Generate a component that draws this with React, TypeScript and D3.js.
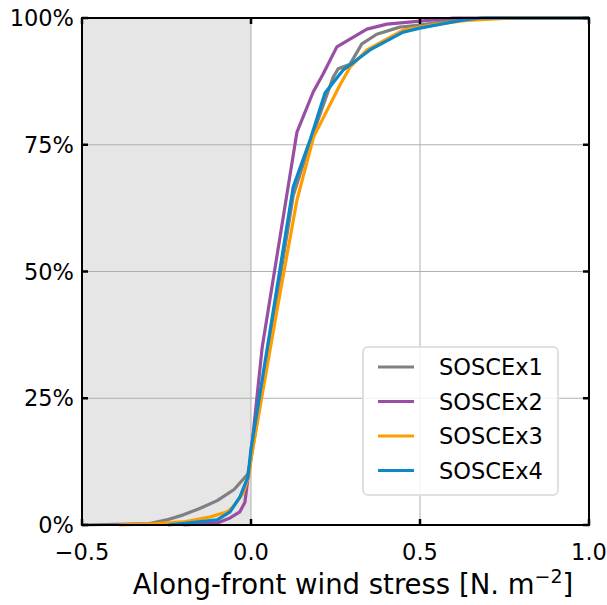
import React from "react";
import * as d3 from "d3";

const soscex1: [number, number][] = [
  [-0.5, 0], [-0.3, 0.003], [-0.25, 0.01], [-0.2, 0.02], [-0.15, 0.033],
  [-0.1, 0.048], [-0.05, 0.07], [-0.01, 0.1], [0.0, 0.13], [0.125, 0.65],
  [0.18, 0.765], [0.243, 0.883], [0.258, 0.9], [0.293, 0.909], [0.328, 0.949],
  [0.372, 0.968], [0.44, 0.982], [0.5, 0.986], [0.6, 0.996], [0.7, 1.0], [1.0, 1.0],
];
const soscex2: [number, number][] = [
  [-0.2, 0], [-0.1, 0.004], [-0.062, 0.014], [-0.033, 0.026], [-0.018, 0.045],
  [0.0, 0.14], [0.033, 0.35], [0.136, 0.775], [0.184, 0.854], [0.213, 0.889],
  [0.254, 0.943], [0.343, 0.978], [0.402, 0.988], [0.5, 0.994], [0.6, 1.0], [1.0, 1.0],
];
const soscex3: [number, number][] = [
  [-0.39, 0], [-0.3, 0.002], [-0.2, 0.006], [-0.12, 0.016], [-0.07, 0.026],
  [-0.053, 0.036], [-0.023, 0.063], [-0.005, 0.1], [0.0, 0.13], [0.077, 0.424],
  [0.136, 0.641], [0.185, 0.765], [0.263, 0.868], [0.293, 0.903], [0.343, 0.937],
  [0.45, 0.976], [0.55, 0.988], [0.65, 0.996], [0.77, 1.0], [1.0, 1.0],
];
const soscex4: [number, number][] = [
  [-0.245, 0], [-0.1, 0.01], [-0.062, 0.026], [-0.033, 0.055], [-0.009, 0.095],
  [0.0, 0.15], [0.125, 0.667], [0.175, 0.76], [0.219, 0.852], [0.272, 0.897],
  [0.352, 0.937], [0.45, 0.972], [0.5, 0.98], [0.62, 0.995], [0.68, 1.0], [1.0, 1.0],
];

const seriesNames = ["SOSCEx1", "SOSCEx2", "SOSCEx3", "SOSCEx4"];
const seriesData = [soscex1, soscex2, soscex3, soscex4];
const seriesColors = ["#808080", "#984ea3", "#ff9d00", "#0a88c8"];

const xTicks = [-0.5, 0.0, 0.5, 1.0];
const yTicks = [0, 0.25, 0.5, 0.75, 1.0];

const margin = { left: 82, right: 18, top: 18, bottom: 80 };
const totalWidth = 607;
const totalHeight = 605;
const font = "DejaVu Sans, sans-serif";

export default function App() {
  const width = totalWidth - margin.left - margin.right;
  const height = totalHeight - margin.top - margin.bottom;

  const xScale = d3.scaleLinear().domain([-0.5, 1.0]).range([0, width]);
  const yScale = d3.scaleLinear().domain([0, 1]).range([height, 0]);

  const line = d3
    .line<[number, number]>()
    .x((d) => xScale(d[0]))
    .y((d) => yScale(d[1]));

  const tickLen = 6;

  return (
    <svg
      width={totalWidth}
      height={totalHeight}
      style={{ position: "absolute", left: 0, top: 0, background: "white" }}
    >
      <g transform={`translate(${margin.left}, ${margin.top})`}>
        {/* negative-stress shading */}
        <rect
          x={xScale(-0.5)}
          y={0}
          width={xScale(0) - xScale(-0.5)}
          height={height}
          fill="#e6e6e6"
        />
        {/* grid */}
        {xTicks.map((t) => (
          <line key={"gx" + t} x1={xScale(t)} x2={xScale(t)} y1={0} y2={height} stroke="#b0b0b0" strokeWidth="1" />
        ))}
        {yTicks.map((t) => (
          <line key={"gy" + t} x1={0} x2={width} y1={yScale(t)} y2={yScale(t)} stroke="#b0b0b0" strokeWidth="1" />
        ))}

        {seriesData.map((d, i) => (
          <path
            key={seriesNames[i]}
            d={line(d) ?? ""}
            fill="none"
            stroke={seriesColors[i]}
            strokeWidth="3.2"
            strokeLinejoin="round"
          />
        ))}

        {/* frame */}
        <rect x={0} y={0} width={width} height={height} fill="none" stroke="black" strokeWidth="2" />

        {/* inward ticks on all sides */}
        {xTicks.map((t) => (
          <g key={"tx" + t}>
            <line x1={xScale(t)} x2={xScale(t)} y1={height} y2={height - tickLen} stroke="black" strokeWidth="2.5" />
            <line x1={xScale(t)} x2={xScale(t)} y1={0} y2={tickLen} stroke="black" strokeWidth="2.5" />
            <text
              x={xScale(t)}
              y={height + 35}
              textAnchor="middle"
              style={{ fontFamily: font, fontSize: 22.5, fill: "black" }}
            >
              {t < 0 ? "\u2212" + Math.abs(t).toFixed(1) : t.toFixed(1)}
            </text>
          </g>
        ))}
        {yTicks.map((t) => (
          <g key={"ty" + t}>
            <line x1={0} x2={tickLen} y1={yScale(t)} y2={yScale(t)} stroke="black" strokeWidth="2.5" />
            <line x1={width} x2={width - tickLen} y1={yScale(t)} y2={yScale(t)} stroke="black" strokeWidth="2.5" />
            <text
              x={-8}
              y={yScale(t) + 8}
              textAnchor="end"
              style={{ fontFamily: font, fontSize: 22.5, fill: "black" }}
            >
              {Math.round(t * 100) + "%"}
            </text>
          </g>
        ))}

        <text
          x={271}
          y={height + 69}
          textAnchor="middle"
          style={{ fontFamily: font, fontSize: 27.5, fill: "black" }}
        >
          Along-front wind stress [N. m
          <tspan dy={-11} style={{ fontSize: 19 }}>{"\u22122"}</tspan>
          <tspan dy={11}>]</tspan>
        </text>

        {/* legend */}
        <g transform={`translate(${363 - margin.left}, ${347 - margin.top})`}>
          <rect x={0} y={0} width={195} height={148} rx={5} fill="white" fillOpacity={0.85} stroke="#e0e0e0" strokeWidth="2" />
          {seriesNames.map((name, i) => (
            <g key={name} transform={`translate(0, ${20 + i * 34.5})`}>
              <line x1={15} x2={51} y1={0} y2={0} stroke={seriesColors[i]} strokeWidth="3.2" />
              <text x={76} y={8} style={{ fontFamily: font, fontSize: 22.5, fill: "black" }}>
                {name}
              </text>
            </g>
          ))}
        </g>
      </g>
    </svg>
  );
}
